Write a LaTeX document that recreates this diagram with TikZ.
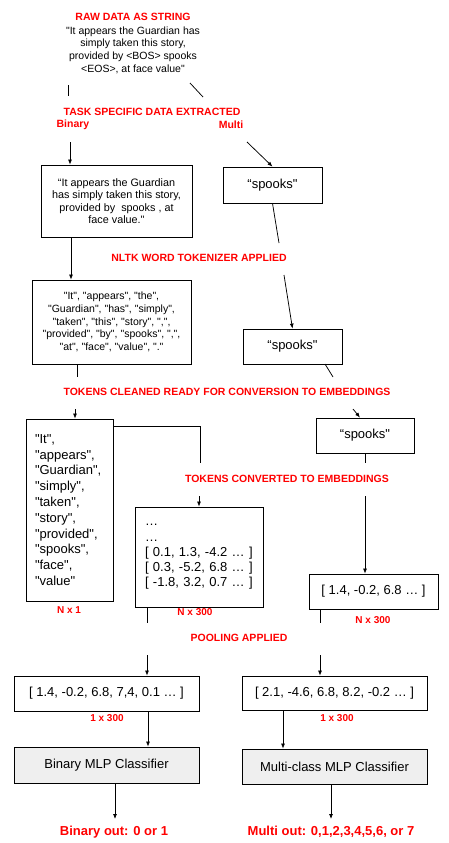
\documentclass[tikz,border=0pt]{standalone}
\usepackage{fontspec}
\setmainfont{Liberation Sans}
\newfontfamily\libfont{Liberation Sans}
\usetikzlibrary{arrows.meta,calc}
\definecolor{lbl}{HTML}{FF0000}
\definecolor{clsfill}{HTML}{EFEFEF}
\begin{document}
\begin{tikzpicture}[x=1pt,y=-1pt,
 redlbl/.style={text=lbl,font=\libfont\fontsize{10.5}{12}\selectfont\bfseries,inner sep=0pt},
 outlbl/.style={text=lbl,font=\libfont\fontsize{13}{15}\selectfont\bfseries,inner sep=0pt},
 box/.style={draw,line width=0.8pt,inner sep=0pt,align=center,font=\libfont\fontsize{13}{15.6}\selectfont},
 smalltext/.style={font=\libfont\fontsize{10.5}{12.7}\selectfont},
 conn/.style={line width=0.75pt},
 arr/.style={conn,-{Latex[length=5pt,width=4pt]}}]
\libfont
\useasboundingbox (0,0) rectangle (448,843);
\fill[white] (0,0) rectangle (448,843);

% top
\node[redlbl] (rawt) at (133,17) {RAW DATA AS STRING};
\node[smalltext,align=center,inner sep=0pt] (raw) at (133,50) {"It appears the Guardian has\\simply taken this story,\\provided by <BOS> spooks\\<EOS>, at face value"};
\coordinate (a1) at (68,85); \coordinate (a2) at (68,96);
\draw[conn] (a1) -- (a2);
\coordinate (b1) at (190,83); \coordinate (b2) at (203,97);
\draw[conn] (b1) -- (b2);

\node[redlbl] (task) at (152,112) {TASK SPECIFIC DATA EXTRACTED};
\node[redlbl] (bin) at (73,125) {Binary};
\node[redlbl] (mul) at (231,125) {Multi};

% row 1
\node[box,font=\libfont\fontsize{10.8}{12.4}\selectfont,minimum width=151pt,minimum height=72pt] (box1) at (116.5,201) {“It appears the Guardian\\has simply taken this story,\\provided by\ \ spooks , at\\face value."};
\node[box,minimum width=99pt,minimum height=36pt] (s1) at (272.5,185) {“spooks"};
\coordinate (c1) at (70,142);
\draw[arr] (c1) -- (c1 |- box1.north);
\coordinate (c2) at (247,142);
\draw[arr] (c2) -- (s1.north);

\node[redlbl] (nltk) at (199,258) {NLTK WORD TOKENIZER APPLIED};

% row 2
\node[box,font=\libfont\fontsize{10.5}{12.7}\selectfont,minimum width=159pt,minimum height=84pt] (tok) at (111.5,322) {"It", "appears", "the",\\"Guardian", "has", "simply",\\"taken", "this", "story", ",",\\"provided", "by", "spooks", ",",\\"at", "face", "value", "."};
\node[box,minimum width=99pt,minimum height=35pt] (s2) at (292.5,346.5) {“spooks"};
\coordinate (d0) at (71,237);
\draw[arr] (d0) -- (d0 |- tok.north);
\coordinate (d1) at (279,243); \coordinate (d2) at (284,275);
\draw[conn] (s1.south) -- (d1);
\draw[arr] (d2) -- (s2.north);

\node[redlbl] (clean) at (227,392) {TOKENS CLEANED READY FOR CONVERSION TO EMBEDDINGS};

% row 3
\node[box,align=left,text width=69pt,inner xsep=9pt,minimum height=182pt,font=\libfont\fontsize{13}{15.8}\selectfont] (nx1) at (69.5,510) {"It",\\"appears",\\"Guardian",\\"simply",\\"taken",\\"story",\\"provided",\\"spooks",\\"face",\\"value"};
\node[box,minimum width=98pt,minimum height=35pt] (s3) at (365,435.5) {“spooks"};
\coordinate (e0) at (77,364); \coordinate (e1) at (77,377);
\draw[conn] (e0) -- (e1);
\coordinate (e2) at (75,409);
\draw[arr] (e2) -- (e2 |- nx1.north);
\coordinate (f0) at (325,364); \coordinate (f1) at (333,377);
\draw[conn] (f0) -- (f1);
\coordinate (f2) at (353,409);
\draw[arr] (f2) -- ([xshift=-5pt]s3.north);

\node[redlbl] (conv) at (287,479) {TOKENS CONVERTED TO EMBEDDINGS};

\node[box,align=left,text width=108pt,inner xsep=10pt,minimum height=100pt,font=\libfont\fontsize{13}{15.3}\selectfont] (nx300) at (199,557) {…\\…\\{[} 0.1, 1.3, -4.2 … ]\\{[} 0.3, -5.2, 6.8 … ]\\{[} -1.8, 3.2, 0.7 … ]};
\coordinate (g0) at (200,426); \coordinate (g1) at (200,463); \coordinate (g2) at (199,496);
\draw[conn] (nx1.east |- g0) -| (g1);
\draw[arr] (g2) -- (nx300.north);

\node[box,minimum width=129pt,minimum height=35pt] (vec) at (373.5,591.5) {[ 1.4, -0.2, 6.8 … ]};
\coordinate (h1) at (365,463); \coordinate (h2) at (365,496);
\draw[conn] (s3.south) -- (h1);
\draw[arr] (h2) -- (h2 |- vec.north);

\node[redlbl,font=\libfont\fontsize{10}{12}\selectfont\bfseries] (n1) at (69,610) {N x 1};
\node[redlbl,font=\libfont\fontsize{10}{12}\selectfont\bfseries] (n300a) at (195,612) {N x 300};
\node[redlbl,font=\libfont\fontsize{10}{12}\selectfont\bfseries] (n300b) at (373,620) {N x 300};

% pooling
\coordinate (i0) at (147,607); \coordinate (i1) at (147,623); \coordinate (i2) at (147,655);
\draw[conn] (i0) -- (i1);
\coordinate (j0) at (320,609); \coordinate (j1) at (320,623); \coordinate (j2) at (320,655);
\draw[conn] (j0) -- (j1);
\node[redlbl] (pool) at (239,638) {POOLING APPLIED};

\node[box,minimum width=185pt,minimum height=35pt] (pool1) at (106.5,693.5) {[ 1.4, -0.2, 6.8, 7,4, 0.1 … ]};
\node[box,minimum width=185pt,minimum height=34pt] (pool2) at (334.5,693) {[ 2.1, -4.6, 6.8, 8.2, -0.2 … ]};
\draw[arr] (i2) -- (i2 |- pool1.north);
\draw[arr] (j2) -- (j2 |- pool2.north);

\node[redlbl,font=\libfont\fontsize{10}{12}\selectfont\bfseries] (d300a) at (107,718) {1 x 300};
\node[redlbl,font=\libfont\fontsize{10}{12}\selectfont\bfseries] (d300b) at (337,718) {1 x 300};

% classifiers
\node[box,fill=clsfill,minimum width=185pt,minimum height=36pt] (cls1) at (106.5,765) {Binary MLP Classifier};
\node[box,fill=clsfill,minimum width=185pt,minimum height=35pt] (cls2) at (334.5,766.5) {Multi-class MLP Classifier};
\draw[arr] ([xshift=41.5pt]pool1.south) -- ([xshift=41.5pt]cls1.north);
\draw[arr] ([xshift=-51.5pt]pool2.south) -- ([xshift=-51.5pt]cls2.north);

\node[outlbl] (outb) at (114,832) {Binary out: 0 or 1};
\node[outlbl] (outm) at (331,832) {Multi out: 0,1,2,3,4,5,6, or 7};
\coordinate (k1) at (115,819); \coordinate (k2) at (331,819);
\draw[arr] (cls1.south -| k1) -- (k1);
\draw[arr] (cls2.south -| k2) -- (k2);
\end{tikzpicture}
\end{document}
